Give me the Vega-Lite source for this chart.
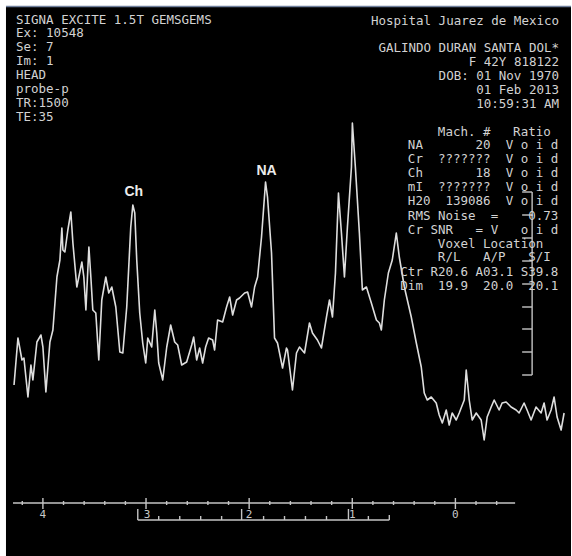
{
  "$schema": "https://vega.github.io/schema/vega-lite/v6.json",
  "width": 572,
  "height": 556,
  "autosize": {"type": "fit", "contains": "padding"},
  "padding": 0,
  "background": "white",
  "config": {"view": {"stroke": null}},
  "encoding": {
    "x": {"field": "ppm", "type": "quantitative", "scale": {"domain": [-1.121, 4.416], "reverse": true, "nice": false, "zero": false}, "axis": null},
    "y": {"field": "signal", "type": "quantitative", "scale": {"domain": [0, 556], "nice": false, "zero": false}, "axis": null}
  },
  "datasets": {
    "frame": [{"ppm": 4.358, "ppm2": -1.121, "signal": 0, "signal2": 549}],
    "topline": [{"ppm": 4.358, "ppm2": -1.121, "signal": 549.5, "signal2": 549.5}],
    "spectrum": [
      {"ppm": 4.280, "signal": 171}, {"ppm": 4.242, "signal": 218}, {"ppm": 4.203, "signal": 196}, {"ppm": 4.184, "signal": 198},
      {"ppm": 4.145, "signal": 159}, {"ppm": 4.116, "signal": 191}, {"ppm": 4.097, "signal": 176}, {"ppm": 4.058, "signal": 214},
      {"ppm": 4.019, "signal": 221}, {"ppm": 4.000, "signal": 209}, {"ppm": 3.971, "signal": 164}, {"ppm": 3.932, "signal": 214},
      {"ppm": 3.903, "signal": 226}, {"ppm": 3.864, "signal": 279}, {"ppm": 3.835, "signal": 296}, {"ppm": 3.816, "signal": 328},
      {"ppm": 3.806, "signal": 306}, {"ppm": 3.787, "signal": 304}, {"ppm": 3.758, "signal": 326}, {"ppm": 3.729, "signal": 344},
      {"ppm": 3.709, "signal": 313}, {"ppm": 3.671, "signal": 269}, {"ppm": 3.622, "signal": 294}, {"ppm": 3.603, "signal": 279},
      {"ppm": 3.583, "signal": 246}, {"ppm": 3.554, "signal": 309}, {"ppm": 3.535, "signal": 279}, {"ppm": 3.516, "signal": 246},
      {"ppm": 3.487, "signal": 243}, {"ppm": 3.458, "signal": 196}, {"ppm": 3.429, "signal": 256}, {"ppm": 3.390, "signal": 279},
      {"ppm": 3.361, "signal": 263}, {"ppm": 3.332, "signal": 269}, {"ppm": 3.293, "signal": 249}, {"ppm": 3.254, "signal": 204},
      {"ppm": 3.225, "signal": 203}, {"ppm": 3.187, "signal": 249}, {"ppm": 3.148, "signal": 329}, {"ppm": 3.128, "signal": 351},
      {"ppm": 3.109, "signal": 343}, {"ppm": 3.090, "signal": 296}, {"ppm": 3.061, "signal": 243}, {"ppm": 3.032, "signal": 213},
      {"ppm": 3.003, "signal": 193}, {"ppm": 2.983, "signal": 218}, {"ppm": 2.945, "signal": 209}, {"ppm": 2.915, "signal": 246},
      {"ppm": 2.896, "signal": 223}, {"ppm": 2.877, "signal": 193}, {"ppm": 2.838, "signal": 176}, {"ppm": 2.799, "signal": 209},
      {"ppm": 2.761, "signal": 231}, {"ppm": 2.722, "signal": 214}, {"ppm": 2.693, "signal": 211}, {"ppm": 2.654, "signal": 191},
      {"ppm": 2.606, "signal": 194}, {"ppm": 2.557, "signal": 211}, {"ppm": 2.538, "signal": 219}, {"ppm": 2.509, "signal": 196},
      {"ppm": 2.480, "signal": 208}, {"ppm": 2.451, "signal": 193}, {"ppm": 2.422, "signal": 209}, {"ppm": 2.393, "signal": 218},
      {"ppm": 2.354, "signal": 216}, {"ppm": 2.335, "signal": 206}, {"ppm": 2.306, "signal": 236}, {"ppm": 2.257, "signal": 234},
      {"ppm": 2.219, "signal": 249}, {"ppm": 2.189, "signal": 259}, {"ppm": 2.160, "signal": 241}, {"ppm": 2.122, "signal": 256},
      {"ppm": 2.093, "signal": 258}, {"ppm": 2.044, "signal": 263}, {"ppm": 2.015, "signal": 264}, {"ppm": 1.977, "signal": 249},
      {"ppm": 1.947, "signal": 269}, {"ppm": 1.918, "signal": 279}, {"ppm": 1.880, "signal": 319}, {"ppm": 1.841, "signal": 374},
      {"ppm": 1.822, "signal": 359}, {"ppm": 1.783, "signal": 303}, {"ppm": 1.754, "signal": 218}, {"ppm": 1.725, "signal": 213},
      {"ppm": 1.676, "signal": 188}, {"ppm": 1.638, "signal": 208}, {"ppm": 1.628, "signal": 206}, {"ppm": 1.580, "signal": 166},
      {"ppm": 1.541, "signal": 203}, {"ppm": 1.512, "signal": 209}, {"ppm": 1.463, "signal": 203}, {"ppm": 1.415, "signal": 233},
      {"ppm": 1.386, "signal": 223}, {"ppm": 1.338, "signal": 216}, {"ppm": 1.299, "signal": 208}, {"ppm": 1.250, "signal": 239},
      {"ppm": 1.221, "signal": 256}, {"ppm": 1.192, "signal": 239}, {"ppm": 1.163, "signal": 283}, {"ppm": 1.134, "signal": 363},
      {"ppm": 1.105, "signal": 323}, {"ppm": 1.076, "signal": 279}, {"ppm": 1.047, "signal": 329}, {"ppm": 1.008, "signal": 389},
      {"ppm": 0.999, "signal": 433}, {"ppm": 0.970, "signal": 389}, {"ppm": 0.931, "signal": 323}, {"ppm": 0.902, "signal": 266},
      {"ppm": 0.863, "signal": 269}, {"ppm": 0.815, "signal": 253}, {"ppm": 0.766, "signal": 236}, {"ppm": 0.737, "signal": 233},
      {"ppm": 0.718, "signal": 226}, {"ppm": 0.689, "signal": 256}, {"ppm": 0.650, "signal": 283}, {"ppm": 0.612, "signal": 296},
      {"ppm": 0.573, "signal": 323}, {"ppm": 0.544, "signal": 299}, {"ppm": 0.495, "signal": 269}, {"ppm": 0.428, "signal": 239},
      {"ppm": 0.379, "signal": 213}, {"ppm": 0.331, "signal": 189}, {"ppm": 0.302, "signal": 163}, {"ppm": 0.273, "signal": 156},
      {"ppm": 0.234, "signal": 159}, {"ppm": 0.186, "signal": 153}, {"ppm": 0.157, "signal": 141}, {"ppm": 0.127, "signal": 133},
      {"ppm": 0.089, "signal": 146}, {"ppm": 0.060, "signal": 131}, {"ppm": 0.031, "signal": 143}, {"ppm": -0.008, "signal": 136},
      {"ppm": -0.037, "signal": 143}, {"ppm": -0.086, "signal": 156}, {"ppm": -0.105, "signal": 186}, {"ppm": -0.134, "signal": 156},
      {"ppm": -0.163, "signal": 136}, {"ppm": -0.202, "signal": 143}, {"ppm": -0.250, "signal": 136}, {"ppm": -0.279, "signal": 116},
      {"ppm": -0.308, "signal": 139}, {"ppm": -0.347, "signal": 149}, {"ppm": -0.376, "signal": 156}, {"ppm": -0.424, "signal": 146},
      {"ppm": -0.453, "signal": 153}, {"ppm": -0.492, "signal": 154}, {"ppm": -0.540, "signal": 149}, {"ppm": -0.589, "signal": 146},
      {"ppm": -0.618, "signal": 143}, {"ppm": -0.666, "signal": 153}, {"ppm": -0.695, "signal": 146}, {"ppm": -0.734, "signal": 136},
      {"ppm": -0.782, "signal": 149}, {"ppm": -0.831, "signal": 143}, {"ppm": -0.860, "signal": 153}, {"ppm": -0.889, "signal": 136},
      {"ppm": -0.928, "signal": 146}, {"ppm": -0.957, "signal": 159}, {"ppm": -0.986, "signal": 139}, {"ppm": -1.025, "signal": 126},
      {"ppm": -1.054, "signal": 143}
    ],
    "segments": [
      {"ppm": 4.290, "ppm2": -0.579, "signal": 53, "signal2": 53},
      {"ppm": 4, "ppm2": 4, "signal": 58, "signal2": 47},
      {"ppm": 3, "ppm2": 3, "signal": 58, "signal2": 47},
      {"ppm": 2, "ppm2": 2, "signal": 58, "signal2": 47},
      {"ppm": 1, "ppm2": 1, "signal": 58, "signal2": 47},
      {"ppm": 0, "ppm2": 0, "signal": 58, "signal2": 47},
      {"ppm": 4.2, "ppm2": 4.2, "signal": 55, "signal2": 51},
      {"ppm": 3.8, "ppm2": 3.8, "signal": 55, "signal2": 51},
      {"ppm": 3.6, "ppm2": 3.6, "signal": 55, "signal2": 51},
      {"ppm": 3.4, "ppm2": 3.4, "signal": 55, "signal2": 51},
      {"ppm": 3.2, "ppm2": 3.2, "signal": 55, "signal2": 51},
      {"ppm": 2.8, "ppm2": 2.8, "signal": 55, "signal2": 51},
      {"ppm": 2.6, "ppm2": 2.6, "signal": 55, "signal2": 51},
      {"ppm": 2.4, "ppm2": 2.4, "signal": 55, "signal2": 51},
      {"ppm": 2.2, "ppm2": 2.2, "signal": 55, "signal2": 51},
      {"ppm": 1.8, "ppm2": 1.8, "signal": 55, "signal2": 51},
      {"ppm": 1.6, "ppm2": 1.6, "signal": 55, "signal2": 51},
      {"ppm": 1.4, "ppm2": 1.4, "signal": 55, "signal2": 51},
      {"ppm": 1.2, "ppm2": 1.2, "signal": 55, "signal2": 51},
      {"ppm": 0.8, "ppm2": 0.8, "signal": 55, "signal2": 51},
      {"ppm": 0.6, "ppm2": 0.6, "signal": 55, "signal2": 51},
      {"ppm": 0.4, "ppm2": 0.4, "signal": 55, "signal2": 51},
      {"ppm": 0.2, "ppm2": 0.2, "signal": 55, "signal2": 51},
      {"ppm": -0.2, "ppm2": -0.2, "signal": 55, "signal2": 51},
      {"ppm": -0.4, "ppm2": -0.4, "signal": 55, "signal2": 51},
      {"ppm": 3.080, "ppm2": 0.641, "signal": 36, "signal2": 36},
      {"ppm": 3.080, "ppm2": 3.080, "signal": 36, "signal2": 47},
      {"ppm": 2.073, "ppm2": 2.073, "signal": 36, "signal2": 47},
      {"ppm": 1.037, "ppm2": 1.037, "signal": 36, "signal2": 47},
      {"ppm": 0.641, "ppm2": 0.641, "signal": 36, "signal2": 41},
      {"ppm": 2.877, "ppm2": 2.877, "signal": 36, "signal2": 40},
      {"ppm": 2.673, "ppm2": 2.673, "signal": 36, "signal2": 40},
      {"ppm": 2.470, "ppm2": 2.470, "signal": 36, "signal2": 40},
      {"ppm": 2.267, "ppm2": 2.267, "signal": 36, "signal2": 40},
      {"ppm": 1.860, "ppm2": 1.860, "signal": 36, "signal2": 40},
      {"ppm": 1.657, "ppm2": 1.657, "signal": 36, "signal2": 40},
      {"ppm": 1.454, "ppm2": 1.454, "signal": 36, "signal2": 40},
      {"ppm": 1.250, "ppm2": 1.250, "signal": 36, "signal2": 40},
      {"ppm": 0.844, "ppm2": 0.844, "signal": 36, "signal2": 40},
      {"ppm": -0.744, "ppm2": -0.744, "signal": 181, "signal2": 364},
      {"ppm": -0.744, "ppm2": -0.647, "signal": 364, "signal2": 364},
      {"ppm": -0.744, "ppm2": -0.647, "signal": 341, "signal2": 341},
      {"ppm": -0.744, "ppm2": -0.647, "signal": 318, "signal2": 318},
      {"ppm": -0.744, "ppm2": -0.647, "signal": 295, "signal2": 295},
      {"ppm": -0.744, "ppm2": -0.647, "signal": 272, "signal2": 272},
      {"ppm": -0.744, "ppm2": -0.647, "signal": 249, "signal2": 249},
      {"ppm": -0.744, "ppm2": -0.647, "signal": 227, "signal2": 227},
      {"ppm": -0.744, "ppm2": -0.647, "signal": 204, "signal2": 204},
      {"ppm": -0.744, "ppm2": -0.647, "signal": 181, "signal2": 181}
    ],
    "axisLabels": [
      {"ppm": 4.0, "signal": 41, "label": "4"},
      {"ppm": 2.99, "signal": 41, "label": "3"},
      {"ppm": 2.0, "signal": 41, "label": "2"},
      {"ppm": 1.0, "signal": 41, "label": "1"},
      {"ppm": 0.0, "signal": 41, "label": "0"}
    ],
    "headerLeft": [
      {"ppm": 4.261, "signal": 536, "label": "SIGNA EXCITE 1.5T GEMSGEMS"},
      {"ppm": 4.261, "signal": 523, "label": "Ex: 10548"},
      {"ppm": 4.261, "signal": 509, "label": "Se: 7"},
      {"ppm": 4.261, "signal": 495, "label": "Im: 1"},
      {"ppm": 4.261, "signal": 481, "label": "HEAD"},
      {"ppm": 4.261, "signal": 467, "label": "probe-p"},
      {"ppm": 4.261, "signal": 453, "label": "TR:1500"},
      {"ppm": 4.261, "signal": 439, "label": "TE:35"}
    ],
    "headerRight": [
      {"ppm": -1.005, "signal": 535, "label": "Hospital Juarez de Mexico"},
      {"ppm": -1.005, "signal": 508, "label": "GALINDO DURAN SANTA DOL*"},
      {"ppm": -1.005, "signal": 494, "label": "F 42Y 818122"},
      {"ppm": -1.005, "signal": 480, "label": "DOB: 01 Nov 1970"},
      {"ppm": -1.005, "signal": 466, "label": "01 Feb 2013"},
      {"ppm": -1.005, "signal": 452, "label": "10:59:31 AM"}
    ],
    "table": [
      {"ppm": 0.170, "signal": 424, "label": "Mach.\u00a0#\u00a0\u00a0\u00a0Ratio"},
      {"ppm": 0.461, "signal": 411, "label": "NA\u00a0\u00a0\u00a0\u00a0\u00a0\u00a0\u00a020\u00a0\u00a0V\u00a0o\u00a0i\u00a0d"},
      {"ppm": 0.461, "signal": 397, "label": "Cr\u00a0\u00a0???????\u00a0\u00a0V\u00a0o\u00a0i\u00a0d"},
      {"ppm": 0.461, "signal": 383, "label": "Ch\u00a0\u00a0\u00a0\u00a0\u00a0\u00a0\u00a018\u00a0\u00a0V\u00a0o\u00a0i\u00a0d"},
      {"ppm": 0.461, "signal": 369, "label": "mI\u00a0\u00a0???????\u00a0\u00a0V\u00a0o\u00a0i\u00a0d"},
      {"ppm": 0.461, "signal": 355, "label": "H20\u00a0\u00a0139086\u00a0\u00a0V\u00a0o\u00a0i\u00a0d"},
      {"ppm": 0.461, "signal": 340, "label": "RMS\u00a0Noise\u00a0\u00a0=\u00a0\u00a0\u00a0\u00a00.73"},
      {"ppm": 0.461, "signal": 326, "label": "Cr\u00a0SNR\u00a0\u00a0\u00a0=\u00a0V\u00a0\u00a0\u00a0o\u00a0i\u00a0d"},
      {"ppm": 0.170, "signal": 312, "label": "Voxel\u00a0Location"},
      {"ppm": 0.170, "signal": 299, "label": "R/L\u00a0\u00a0\u00a0A/P\u00a0\u00a0\u00a0S/I"},
      {"ppm": 0.534, "signal": 284, "label": "Ctr\u00a0R20.6\u00a0A03.1\u00a0S39.8"},
      {"ppm": 0.534, "signal": 270, "label": "Dim\u00a0\u00a019.9\u00a0\u00a020.0\u00a0\u00a020.1"}
    ],
    "peaks": [
      {"ppm": 3.119, "signal": 364, "label": "Ch"},
      {"ppm": 1.831, "signal": 385, "label": "NA"}
    ]
  },
  "layer": [
    {
      "data": {"name": "frame"},
      "mark": {"type": "rect", "fill": "#000000"},
      "encoding": {"x2": {"field": "ppm2"}, "y2": {"field": "signal2"}}
    },
    {
      "data": {"name": "topline"},
      "mark": {"type": "rule", "stroke": "#6f7f9c", "strokeWidth": 1.5},
      "encoding": {"x2": {"field": "ppm2"}, "y2": {"field": "signal2"}}
    },
    {
      "data": {"name": "segments"},
      "mark": {"type": "rule", "stroke": "#c4c4c4", "strokeWidth": 1.4},
      "encoding": {"x2": {"field": "ppm2"}, "y2": {"field": "signal2"}}
    },
    {
      "data": {"name": "spectrum"},
      "mark": {"type": "line", "stroke": "#dedede", "strokeWidth": 1.6, "strokeJoin": "round"},
      "encoding": {}
    },
    {
      "data": {"name": "axisLabels"},
      "mark": {"type": "text", "font": "DejaVu Sans Mono", "fontSize": 11, "fill": "#c8c8c8", "align": "center", "baseline": "middle"},
      "encoding": {"text": {"field": "label"}}
    },
    {
      "data": {"name": "headerLeft"},
      "mark": {"type": "text", "font": "DejaVu Sans Mono", "fontSize": 12.5, "fill": "#d2d2d2", "align": "left", "baseline": "middle"},
      "encoding": {"text": {"field": "label"}}
    },
    {
      "data": {"name": "headerRight"},
      "mark": {"type": "text", "font": "DejaVu Sans Mono", "fontSize": 12.5, "fill": "#d2d2d2", "align": "right", "baseline": "middle"},
      "encoding": {"text": {"field": "label"}}
    },
    {
      "data": {"name": "table"},
      "mark": {"type": "text", "font": "DejaVu Sans Mono", "fontSize": 12.5, "fill": "#d2d2d2", "align": "left", "baseline": "middle"},
      "encoding": {"text": {"field": "label"}}
    },
    {
      "data": {"name": "peaks"},
      "mark": {"type": "text", "font": "Liberation Sans", "fontSize": 14, "fontWeight": "bold", "fill": "#ececec", "align": "center", "baseline": "middle"},
      "encoding": {"text": {"field": "label"}}
    }
  ]
}
